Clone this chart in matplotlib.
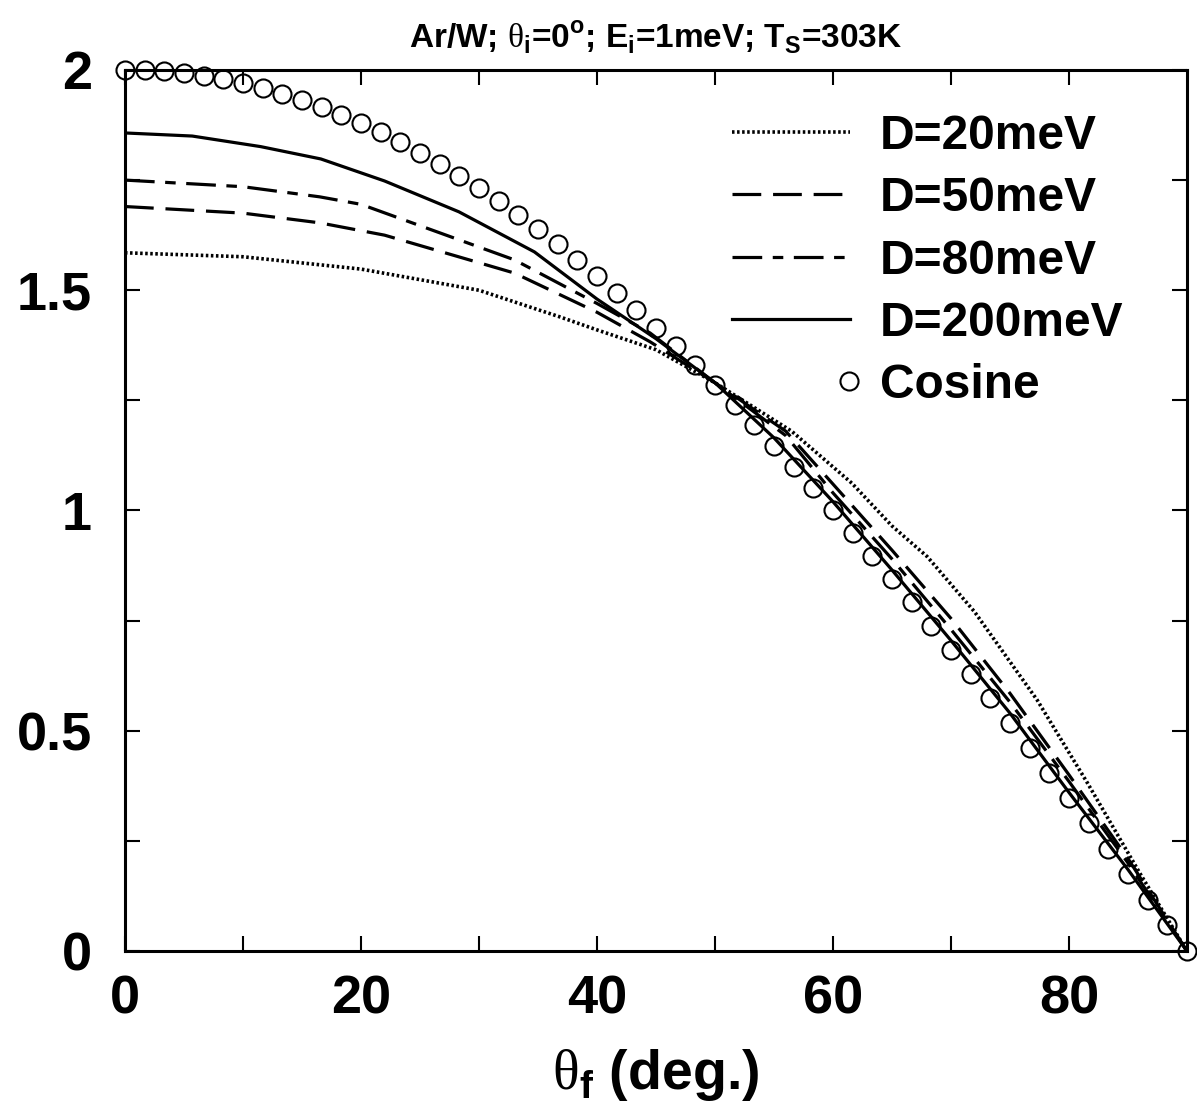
import matplotlib
matplotlib.use("Agg")
import matplotlib.pyplot as plt
from matplotlib.legend_handler import HandlerLine2D

plt.rcParams['font.family'] = ['Liberation Sans', 'DejaVu Sans']
plt.rcParams['font.weight'] = 'bold'
plt.rcParams['mathtext.fontset'] = 'custom'
plt.rcParams['mathtext.rm'] = 'Liberation Sans:bold'
plt.rcParams['mathtext.bf'] = 'Liberation Sans:bold'
plt.rcParams['mathtext.sf'] = 'Liberation Serif:normal'

# curves (theta_f in deg., flux)
th_20 = [0, 10, 20, 30, 36.8, 40, 45, 50, 56.5, 61.6, 65, 68, 72, 77.3, 81.6, 86, 90]
d_20 = [1.585, 1.576, 1.548, 1.50, 1.44, 1.41, 1.365, 1.29, 1.18, 1.062, 0.965, 0.895, 0.77, 0.57, 0.38, 0.177, 0.0]

th_50 = [0, 10, 16.5, 22, 33, 40, 44.5, 50, 56, 60, 65, 70, 75, 80, 85, 90]
d_50 = [1.690, 1.675, 1.653, 1.625, 1.539, 1.45, 1.383, 1.29, 1.18, 1.06, 0.91, 0.755, 0.585, 0.40, 0.21, 0.0]

th_80 = [0, 10, 16.5, 20, 33, 40, 44.5, 50, 56, 60, 65, 70, 75, 80, 85, 90]
d_80 = [1.750, 1.735, 1.712, 1.695, 1.569, 1.47, 1.403, 1.29, 1.17, 1.04, 0.89, 0.73, 0.565, 0.385, 0.20, 0.0]

th_200 = [0, 5.7, 11.5, 16.6, 22, 28.3, 34.7, 40, 45, 50, 55, 60, 65, 70, 75, 80, 85, 90]
d_200 = [1.857, 1.850, 1.826, 1.798, 1.748, 1.678, 1.587, 1.48, 1.39, 1.29, 1.165, 1.02, 0.865, 0.705, 0.54, 0.36, 0.185, 0.0]

th_cos = [0, 1.667, 3.333, 5.0, 6.667, 8.333, 10.0, 11.667, 13.333, 15.0, 16.667,
          18.333, 20.0, 21.667, 23.333, 25.0, 26.667, 28.333, 30.0, 31.667, 33.333,
          35.0, 36.667, 38.333, 40.0, 41.667, 43.333, 45.0, 46.667, 48.333, 50.0,
          51.667, 53.333, 55.0, 56.667, 58.333, 60.0, 61.667, 63.333, 65.0, 66.667,
          68.333, 70.0, 71.667, 73.333, 75.0, 76.667, 78.333, 80.0, 81.667, 83.333,
          85.0, 86.667, 88.333, 90.0]
d_cos = [2.000, 1.9992, 1.9966, 1.9924, 1.9865, 1.9789, 1.9696, 1.9587, 1.9461, 1.9319, 1.9160,
         1.8985, 1.8794, 1.8587, 1.8365, 1.8126, 1.7873, 1.7604, 1.7321, 1.7023, 1.6710,
         1.6383, 1.6042, 1.5688, 1.5321, 1.4940, 1.4547, 1.4142, 1.3725, 1.3296, 1.2856,
         1.2406, 1.1944, 1.1472, 1.0991, 1.0500, 1.0000, 0.9492, 0.8975, 0.8452, 0.7921,
         0.7384, 0.6840, 0.6291, 0.5736, 0.5176, 0.4612, 0.4044, 0.3473, 0.2899, 0.2323,
         0.1743, 0.1163, 0.0582, 0.0]

labels = ['D=20meV', 'D=50meV', 'D=80meV', 'D=200meV', 'Cosine']


class RightMarker(HandlerLine2D):
    # gnuplot puts the point sample at the right end of the key
    def get_xdata(self, legend, xdescent, ydescent, width, height, fontsize):
        r = -xdescent + width - 1.0
        return [r - 1.0, r + 1.0], [r]


fig = plt.figure(figsize=(11.97, 11.07), dpi=100)
ax = fig.add_axes([0.1044, 0.1409, 0.8872, 0.7959])

lw = 2.3
ax.plot(th_20, d_20, color='black', lw=2.6, dashes=(0.7, 0.7), label=labels[0])
ax.plot(th_50, d_50, color='black', lw=lw, dashes=(9, 3.7), label=labels[1])
ax.plot(th_80, d_80, color='black', lw=lw, dashes=(9.3, 3.3, 3.3, 3.3), label=labels[2])
ax.plot(th_200, d_200, color='black', lw=lw, label=labels[3])
ax.plot(th_cos, d_cos, ls='none', marker='o', ms=13, mfc='white', mec='black',
        mew=1.5, clip_on=False, label=labels[4], zorder=1)

ax.set_xlim(0, 90)
ax.set_ylim(0, 2)
ax.set_xticks([0, 10, 20, 30, 40, 50, 60, 70, 80])
ax.set_xticklabels(['0', '', '20', '', '40', '', '60', '', '80'])
ax.set_yticks([0, 0.25, 0.5, 0.75, 1, 1.25, 1.5, 1.75, 2])
ax.set_yticklabels(['0', '', '0.5', '', '1', '', '1.5', '', '2'])
ax.tick_params(direction='in', length=11, width=1.5, top=True, right=True,
               labelsize=39, pad=17)
ax.tick_params(axis='y', pad=24)
for s in ax.spines.values():
    s.set_linewidth(2.2)

ax.set_xlabel(r'$\mathsf{\theta}_\mathrm{f}$ (deg.)', fontsize=40, fontweight='bold', labelpad=16)
ax.set_title(r'Ar/W; $\mathsf{\theta}_\mathrm{i}$=0$^\mathrm{o}$; E$_\mathrm{i}$=1meV; '
             r'T$_\mathrm{S}$=303K', fontsize=24, fontweight='bold', pad=16)

ax.legend(loc='upper left', frameon=False, fontsize=34.5, handlelength=2.47,
          handletextpad=0.62, labelspacing=0.36, borderpad=0, borderaxespad=0,
          bbox_to_anchor=(0.5716, 0.950),
          handler_map={ax.lines[4]: RightMarker(numpoints=1)})

fig.savefig('out.png', dpi=100)
